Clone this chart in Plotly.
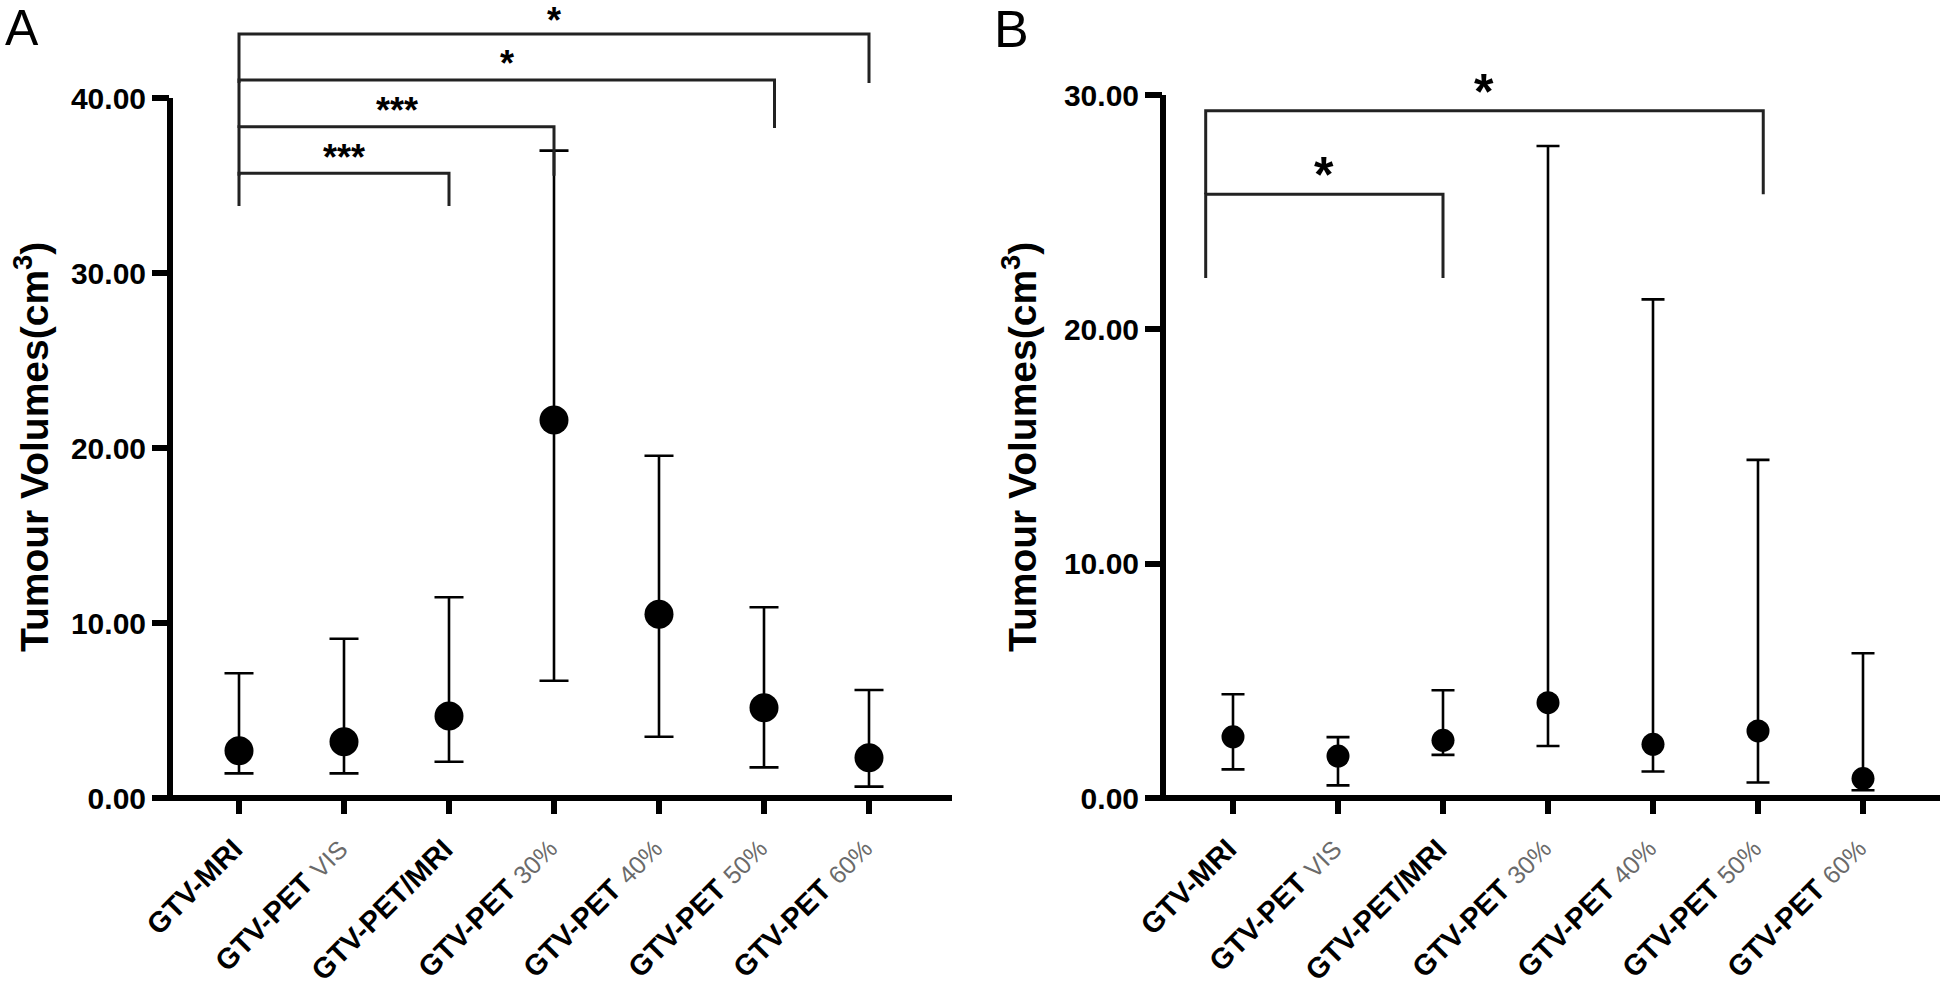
import plotly.graph_objects as go

# ---------------- data ----------------
cat_base = ["GTV-MRI", "GTV-PET", "GTV-PET/MRI", "GTV-PET", "GTV-PET", "GTV-PET", "GTV-PET"]
cat_sub = ["", "VIS", "", "30%", "40%", "50%", "60%"]

# Panel A: median and range (cm^3)
a_median = [2.70, 3.22, 4.69, 21.60, 10.50, 5.16, 2.30]
a_upper = [7.13, 9.10, 11.47, 36.99, 19.56, 10.90, 6.17]
a_lower = [1.41, 1.41, 2.07, 6.70, 3.50, 1.75, 0.65]

# Panel B
b_median = [2.61, 1.79, 2.46, 4.07, 2.29, 2.86, 0.83]
b_upper = [4.43, 2.60, 4.60, 27.83, 21.28, 14.43, 6.18]
b_lower = [1.22, 0.54, 1.84, 2.22, 1.13, 0.66, 0.33]

# significance brackets
a_left = [0, 0, 0, 0]
a_right = [2, 3, 5.1, 6]
a_height = [35.70, 38.36, 41.03, 43.66]
a_bottom = [33.83, 35.56, 38.29, 40.86]
a_star_y = [37.06, 39.77, 42.46, 44.90]
a_label = ["***", "***", "*", "*"]

b_left = [-0.26, -0.26]
b_right = [2, 5.05]
b_height = [25.77, 29.33]
b_bottom = [22.19, 25.77]
b_star_y = [27.06, 30.64]
b_label = ["*", "*"]

y_ticks_a = [0, 10, 20, 30, 40]
y_ticks_b = [0, 10, 20, 30]

# ---------------- layout constants ----------------
W, H = 1943, 986
PLOT_BOTTOM = 798  # pixel of y=0
FONT = "Liberation Sans, Arial, sans-serif"
ymax_a = PLOT_BOTTOM / 17.5
ymax_b = PLOT_BOTTOM / 23.43

def px(x):
    return x / W

def py(y):
    return 1 - y / PLOT_BOTTOM

labels = []
for b, s in zip(cat_base, cat_sub):
    t = f"<b>{b}</b>"
    if s:
        t += f" <span style='color:#6a6a6a;font-size:25px'>{s}</span>"
    labels.append(t)

xs = list(range(len(cat_base)))

fig = go.Figure()

def add_panel(med, up, lo, xa, ya, msize, capw):
    fig.add_trace(go.Scatter(
        x=xs, y=med, mode="markers", xaxis=xa, yaxis=ya,
        marker=dict(color="black", size=msize, symbol="circle"),
        error_y=dict(type="data", symmetric=False,
                     array=[u - m for u, m in zip(up, med)],
                     arrayminus=[m - l for m, l in zip(med, lo)],
                     color="black", thickness=2.6, width=capw),
        cliponaxis=False, showlegend=False, hoverinfo="skip"))

add_panel(a_median, a_upper, a_lower, "x", "y", 29, 14.5)
add_panel(b_median, b_upper, b_lower, "x2", "y2", 23, 11.5)

shapes = []
annotations = []

def brackets(L, R, Hh, B, SY, lab, xr, yr, fs):
    for l, r, h, b, sy, t in zip(L, R, Hh, B, SY, lab):
        shapes.append(dict(type="path", xref=xr, yref=yr,
                           path=f"M {l},{b} L {l},{h} L {r},{h} L {r},{b}",
                           line=dict(color="#222222", width=3)))
        annotations.append(dict(x=(l + r) / 2, y=sy, xref=xr, yref=yr, text=f"<b>{t}</b>",
                                showarrow=False, xanchor="center", yanchor="middle",
                                yshift=-0.23 * fs,
                                font=dict(family=FONT, size=fs, color="black")))

brackets(a_left, a_right, a_height, a_bottom, a_star_y, a_label, "x", "y", 36)
brackets(b_left, b_right, b_height, b_bottom, b_star_y, b_label, "x2", "y2", 50)

# category labels, rotated 45 degrees, ending just right of each tick
for xr in ["x", "x2"]:
    for i, t in enumerate(labels):
        annotations.append(dict(x=xs[i], y=py(830), xref=xr, yref="paper", text=t,
                                textangle=-45, showarrow=False, xanchor="right", yanchor="top",
                                xshift=12, font=dict(family=FONT, size=29, color="black")))

# axis lines (y-axis stops at the top tick)
ax_a_left, ax_a_right = 170, 952
ax_b_left, ax_b_right = 1163, 1940
for xl, xr_, top in [(ax_a_left, ax_a_right, 40 / ymax_a), (ax_b_left, ax_b_right, 30 / ymax_b)]:
    shapes.append(dict(type="line", xref="paper", yref="paper", x0=px(xl), x1=px(xl),
                       y0=-3 / PLOT_BOTTOM, y1=top, line=dict(color="black", width=6)))
    shapes.append(dict(type="line", xref="paper", yref="paper", x0=px(xl - 17), x1=px(xr_),
                       y0=0, y1=0, line=dict(color="black", width=6)))

# y-axis titles
for xc in [31, 1019]:
    annotations.append(dict(x=px(xc), y=py(447), xref="paper", yref="paper",
                            text="<b>Tumour Volumes(cm<sup>3</sup>)</b>", textangle=-90,
                            showarrow=False, xanchor="center", yanchor="middle",
                            font=dict(family=FONT, size=39, color="black")))
# panel letters
for xl, letter, fs in [(3, "A", 50), (992, "B", 52)]:
    annotations.append(dict(x=px(xl), y=py(-2), xref="paper", yref="paper", text=letter,
                            showarrow=False, xanchor="left", yanchor="top",
                            font=dict(family=FONT, size=fs, color="black")))

xcommon = dict(tickmode="array", tickvals=xs, showticklabels=False,
               ticks="outside", ticklen=15, tickwidth=6, tickcolor="black",
               showline=False, showgrid=False, zeroline=False, automargin=False)
ycommon = dict(tickmode="array", ticks="outside", ticklen=17, tickwidth=6, tickcolor="black",
               showline=False, showgrid=False, zeroline=False, automargin=False,
               tickfont=dict(family=FONT, size=30, color="black"))

fig.update_layout(
    width=W, height=H,
    margin=dict(l=0, r=0, t=0, b=H - PLOT_BOTTOM, pad=0),
    paper_bgcolor="white", plot_bgcolor="white",
    xaxis=dict(domain=[px(ax_a_left), px(ax_a_right)],
               range=[-(239 - ax_a_left) / 105, (ax_a_right - 239) / 105], anchor="y", **xcommon),
    yaxis=dict(domain=[0, 1], range=[0, ymax_a], anchor="x",
               tickvals=y_ticks_a, ticktext=[f"<b>{v:.2f}</b>" for v in y_ticks_a], **ycommon),
    xaxis2=dict(domain=[px(ax_b_left), px(ax_b_right)],
                range=[-(1233 - ax_b_left) / 105, (ax_b_right - 1233) / 105], anchor="y2", **xcommon),
    yaxis2=dict(domain=[0, 1], range=[0, ymax_b], anchor="x2",
                tickvals=y_ticks_b, ticktext=[f"<b>{v:.2f}</b>" for v in y_ticks_b], **ycommon),
    shapes=shapes, annotations=annotations,
)

fig.write_html("out.html", config={"displayModeBar": False},
               post_script="document.body.style.margin='0';document.body.style.overflow='hidden';")
